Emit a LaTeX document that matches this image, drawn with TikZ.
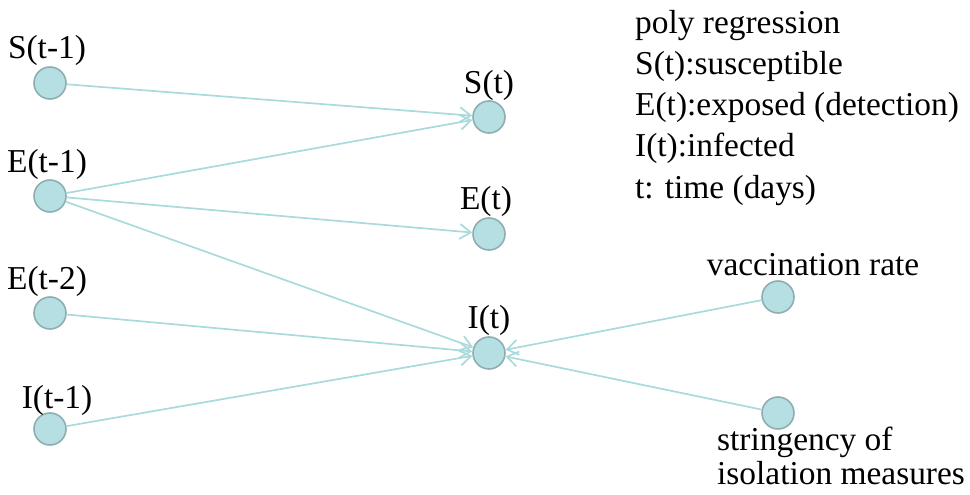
\documentclass[tikz,border=0pt]{standalone}
\usepackage{fontspec}
\setmainfont{Liberation Serif}
\usetikzlibrary{arrows.meta}
\definecolor{nodefill}{HTML}{B5DFE2}
\definecolor{nodeline}{HTML}{8FAEB0}
\definecolor{edgecol}{HTML}{A9DADC}
\begin{document}
\begin{tikzpicture}[x=1pt,y=-1pt,
  var/.style={circle,draw=nodeline,fill=nodefill,line width=1.6pt,minimum size=32pt,inner sep=0pt},
  txt/.style={font=\fontsize{33.4}{40}\selectfont,inner sep=0pt,anchor=base},
  link/.style={draw=edgecol,line width=1.7pt,-{Straight Barb[length=11pt,width=15pt,line width=1.7pt]}}]
\useasboundingbox (0,0) rectangle (970,495);
% lagged inputs
\node[var] (s1) at (50,83) {};
\node[var] (e1) at (50,196) {};
\node[var] (e2) at (50,313) {};
\node[var] (i1) at (50,429) {};
% current states
\node[var] (s) at (489,117) {};
\node[var] (e) at (489,234) {};
\node[var] (i) at (489,353) {};
% external factors
\node[var] (vac) at (778,297) {};
\node[var] (str) at (778,413) {};
% labels
\node[txt] (ls1) at (47,59) {S(t-1)};
\node[txt] (le1) at (47,172) {E(t-1)};
\node[txt] (le2) at (47,289) {E(t-2)};
\node[txt] (li1) at (57,408) {I(t-1)};
\node[txt] (ls) at (489,93) {S(t)};
\node[txt] (le) at (486,209) {E(t)};
\node[txt] (li) at (489,328) {I(t)};
\node[txt] (lvac) at (813,275) {vaccination rate};
\node[txt,anchor=base west] (lstr1) at (717,450) {stringency of};
\node[txt,anchor=base west] (lstr2) at (717,484) {isolation measures};
% legend
\node[txt,anchor=base west] (g1) at (635,34) {poly regression};
\node[txt,anchor=base west] (g2) at (635,75) {S(t):susceptible};
\node[txt,anchor=base west] (g3) at (635,116) {E(t):exposed (detection)};
\node[txt,anchor=base west] (g4) at (635,157) {I(t):infected};
\node[txt,anchor=base west] (g5) at (635,198) {t: time (days)};
% regression links
\draw[link] (s1) -- (s);
\draw[link] (e1) -- (s);
\draw[link] (e1) -- (e);
\draw[link] (e1) -- (i);
\draw[link] (e2) -- (i);
\draw[link] (i1) -- (i);
\draw[link] (vac) -- (i);
\draw[link] (str) -- (i);
\end{tikzpicture}
\end{document}
